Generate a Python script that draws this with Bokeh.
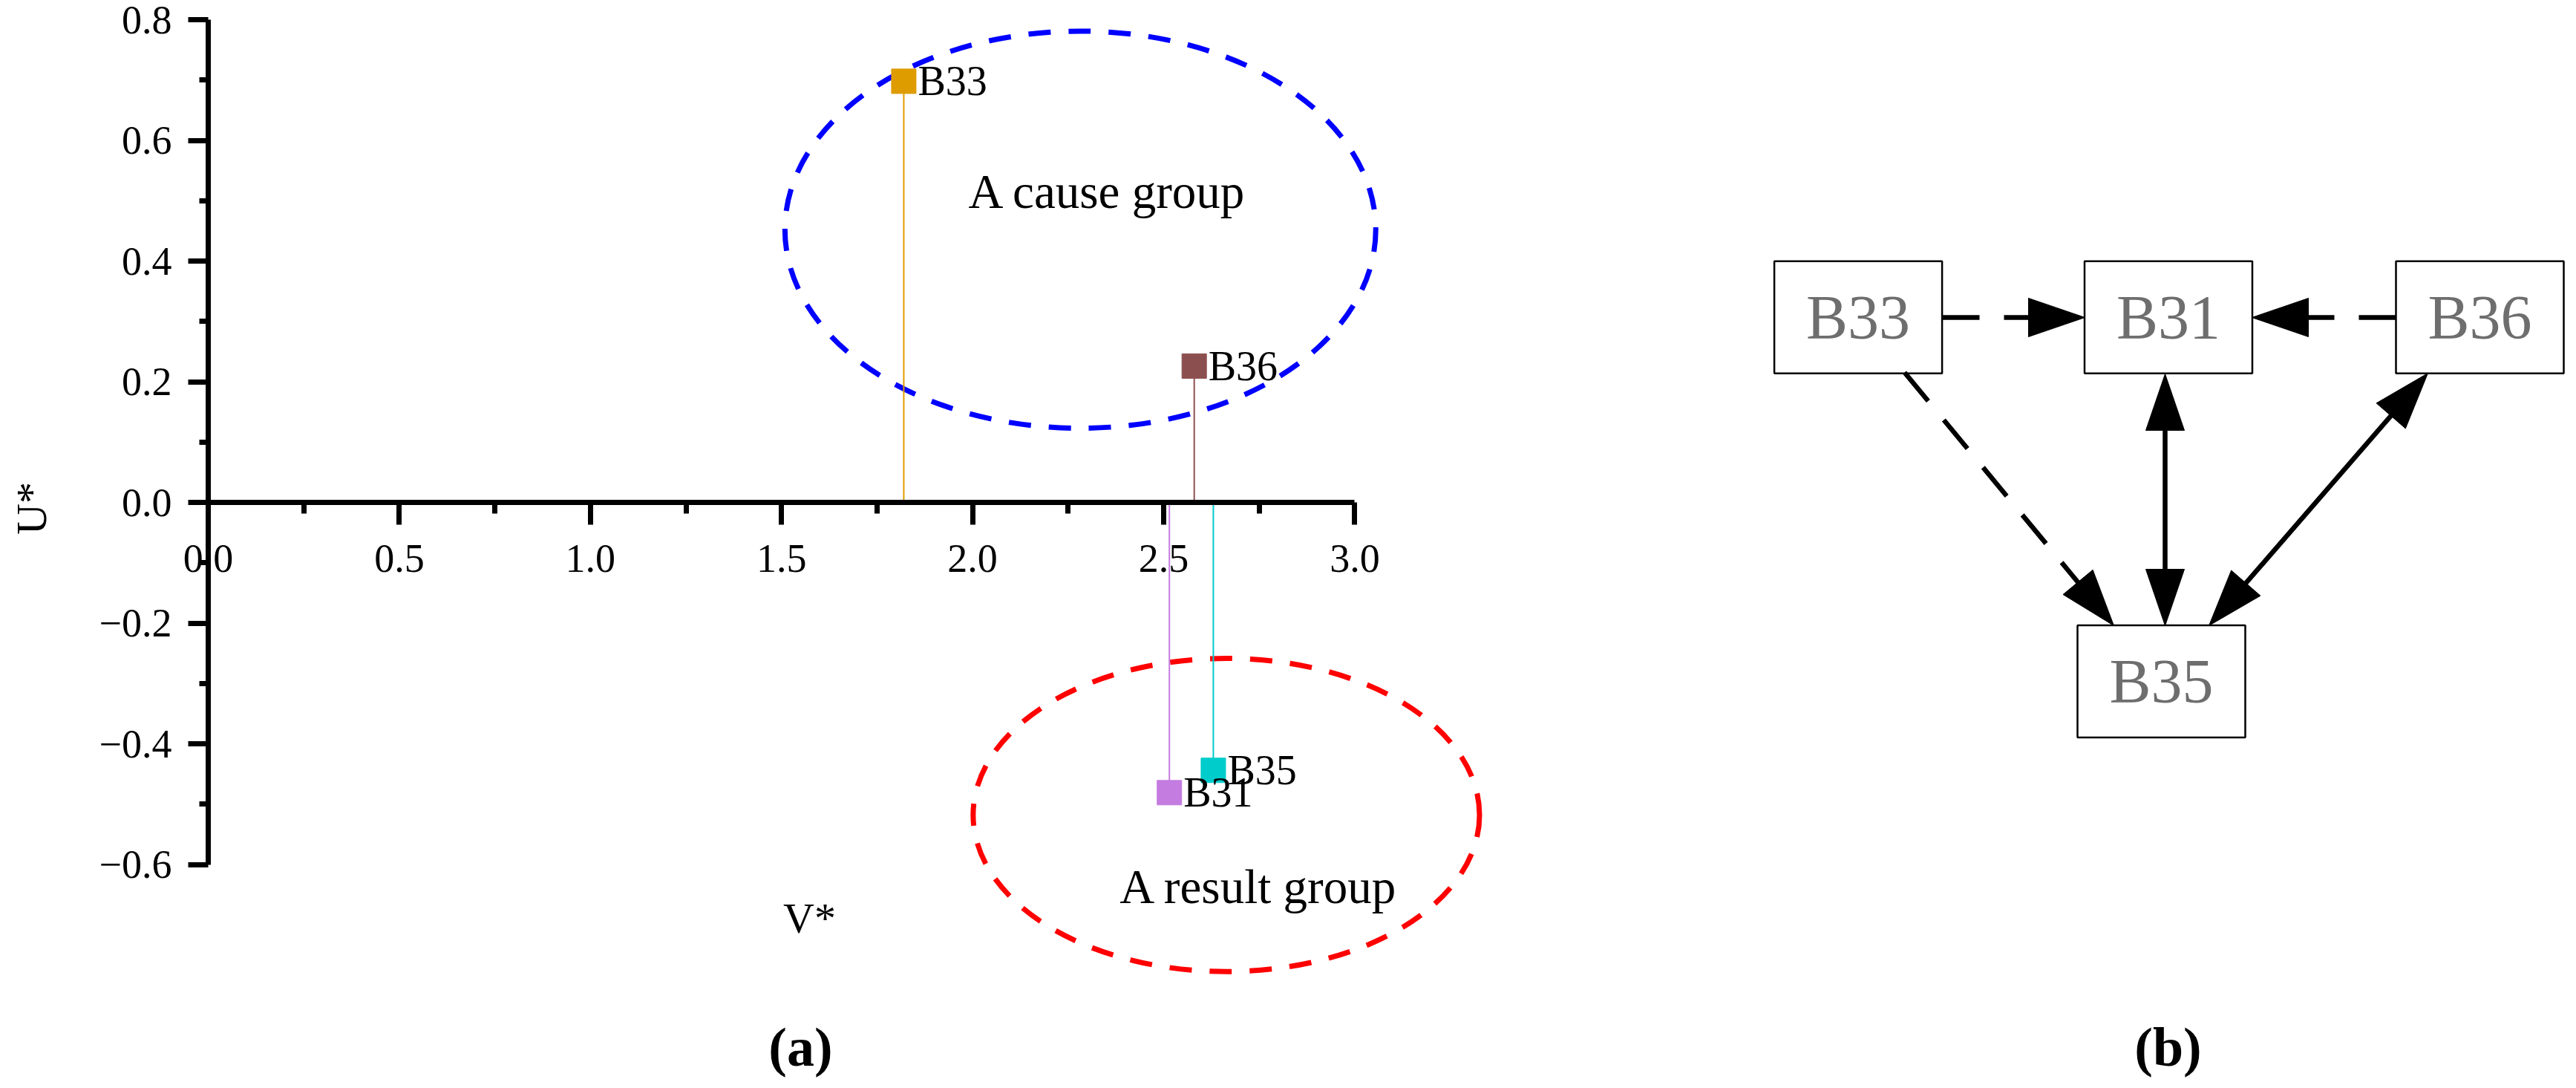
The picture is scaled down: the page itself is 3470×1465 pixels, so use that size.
import math
from bokeh.plotting import figure
from bokeh.models import Range1d, LinearAxis, FixedTicker, ColumnDataSource
from bokeh.layouts import row
from bokeh.embed import file_html
from bokeh.resources import INLINE
from bokeh.core.properties import value

# ---------------- data: panel (a) ----------------
factors = ["B33", "B36", "B35", "B31"]
v_star = [1.82, 2.58, 2.63, 2.515]
u_star = [0.698, 0.226, -0.444, -0.481]
colors = ["#DE9C00", "#8C4F4F", "#00CCCC", "#C47CE0"]

x_ticks = [0.0, 0.5, 1.0, 1.5, 2.0, 2.5, 3.0]
x_tick_labels = ["0.0", "0.5", "1.0", "1.5", "2.0", "2.5", "3.0"]
x_minor = [0.25, 0.75, 1.25, 1.75, 2.25, 2.75]
y_ticks = [-0.6, -0.4, -0.2, 0.0, 0.2, 0.4, 0.6, 0.8]
y_tick_labels = ["\u22120.6", "\u22120.4", "\u22120.2", "0.0", "0.2", "0.4", "0.6", "0.8"]
y_minor = [-0.5, -0.3, -0.1, 0.1, 0.3, 0.5, 0.7]

group_names = ["A cause group", "A result group"]

# ---------------- data: panel (b) ----------------
nodes = ["B33", "B31", "B36", "B35"]
# (source, target, style); "dashed" = one-way dashed, "both" = two-way solid
edges = [("B33", "B31", "dashed"), ("B36", "B31", "dashed"), ("B33", "B35", "dashed"),
         ("B31", "B35", "both"), ("B36", "B35", "both")]

# ---------------- layout (screen pixels) ----------------
OFF = 0          # page origin of the figures
H = 1462
WA = 2310
WB = 1156
FONT = "Liberation Serif"

X0_PX, X_SCALE = 280.0, 514.8
Y0_PX, Y_SCALE = 676.0, 812.5

def vx(px):
    return (px - X0_PX) / X_SCALE

def uy(py):
    return (Y0_PX - py) / Y_SCALE

pa = figure(width=WA, height=H, output_backend="svg", toolbar_location=None,
            x_range=Range1d(vx(OFF), vx(OFF + WA)), y_range=Range1d(uy(OFF + H), uy(OFF)),
            x_axis_type=None, y_axis_type=None, min_border=0)
pa.outline_line_color = None
pa.background_fill_color = "white"
pa.border_fill_color = "white"

common = dict(axis_line_width=7, major_tick_line_width=7, minor_tick_line_width=7,
              major_tick_in=0, minor_tick_in=0, axis_line_cap="butt",
              major_label_text_font=FONT, major_label_text_font_size="54px",
              major_label_text_color="black")
xaxis = LinearAxis(fixed_location=0, bounds=(0, 3),
                   ticker=FixedTicker(ticks=x_ticks, minor_ticks=x_minor),
                   major_tick_out=30, minor_tick_out=15, major_label_standoff=27,
                   major_label_overrides=dict(zip(x_ticks, x_tick_labels)), **common)
yaxis = LinearAxis(fixed_location=0, bounds=(-0.6, 0.8),
                   ticker=FixedTicker(ticks=y_ticks, minor_ticks=y_minor),
                   major_tick_out=27, minor_tick_out=12, major_label_standoff=22,
                   major_label_overrides=dict(zip(y_ticks, y_tick_labels)), **common)
pa.add_layout(xaxis, "below")
pa.add_layout(yaxis, "left")

# group ellipses
pa.ellipse(x=[2.282], y=[0.452], width=[1.546], height=[0.658], fill_color=None,
           line_color="#0000FF", line_width=7, line_dash="30 24")
pa.ellipse(x=[2.664], y=[-0.518], width=[1.325], height=[0.519], fill_color=None,
           line_color="#FF0000", line_width=7, line_dash="30 24")

src = ColumnDataSource(dict(f=factors, v=v_star, u=u_star, c=colors, z=[0] * len(factors)))
pa.segment(x0="v", y0="z", x1="v", y1="u", line_color="c", line_width=2, source=src)
pa.scatter(x="v", y="u", marker="square", size=33, fill_color="c", line_color="c", source=src)
pa.text(x="v", y="u", text="f", x_offset=19, text_align="left", text_baseline="middle",
        text_font=value(FONT), text_font_size="56px", text_color="black", source=src)

pa.text(x=[vx(1491.7), vx(1695.5)], y=[uy(257), uy(1193)], text=group_names,
        text_align="center", text_baseline="middle", text_font=value(FONT),
        text_font_size="65px", text_color="black")
pa.text(x=[vx(1090)], y=[uy(1236)], text=["V*"], text_align="center",
        text_baseline="middle", text_font=value(FONT), text_font_size="58px", text_color="black")
pa.text(x=[vx(41.7)], y=[uy(684)], text=["U*"], angle=math.pi / 2, text_align="center",
        text_baseline="middle", text_font=value(FONT), text_font_size="58px", text_color="black")
pa.text(x=[vx(1078)], y=[uy(1409)], text=["(a)"], text_align="center", text_baseline="middle",
        text_font=value(FONT), text_font_size="74px", text_font_style="bold", text_color="black")

# ---------------- panel (b) ----------------
XB0 = OFF + WA
pb = figure(width=WB, height=H, output_backend="svg", toolbar_location=None,
            x_range=Range1d(XB0, XB0 + WB), y_range=Range1d(OFF + H, OFF),
            x_axis_type=None, y_axis_type=None, min_border=0)
pb.outline_line_color = None
pb.background_fill_color = "white"
pb.border_fill_color = "white"

node_pos = {"B33": (2502.6, 426.8), "B31": (2920.5, 426.8), "B36": (3340.0, 426.8), "B35": (2911.0, 917.0)}
BOX_W, BOX_H = 226, 151
edge_ends = {
    ("B33", "B31"): ((2616, 427), (2808, 427)),
    ("B36", "B31"): ((3227, 427), (3033, 427)),
    ("B33", "B35"): ((2565, 501), (2847, 842)),
    ("B31", "B35"): ((2916, 503), (2916, 842)),
    ("B36", "B35"): ((3270, 502), (2975, 842)),
}
HEAD_L, HEAD_W = 76, 52

pb.rect(x=[node_pos[n][0] for n in nodes], y=[node_pos[n][1] for n in nodes],
        width=BOX_W, height=BOX_H, fill_color="white", line_color="black", line_width=2.5)
pb.text(x=[node_pos[n][0] for n in nodes], y=[node_pos[n][1] for n in nodes], text=nodes,
        text_align="center", text_baseline="middle", text_font=value(FONT),
        text_font_size="84px", text_color="#6E6E6E")

def head(tip, ux_, uy_):
    bx, by = tip[0] - HEAD_L * ux_, tip[1] - HEAD_L * uy_
    px, py = -uy_, ux_
    return ([tip[0], bx + HEAD_W / 2 * px, bx - HEAD_W / 2 * px],
            [tip[1], by + HEAD_W / 2 * py, by - HEAD_W / 2 * py])

hx, hy = [], []
for s, t, style in edges:
    (x0, y0), (x1, y1) = edge_ends[(s, t)]
    d = math.hypot(x1 - x0, y1 - y0)
    ux_, uy_ = (x1 - x0) / d, (y1 - y0) / d
    ex, ey = x1 - (HEAD_L - 4) * ux_, y1 - (HEAD_L - 4) * uy_
    sx, sy = x0, y0
    a, b = head((x1, y1), ux_, uy_)
    hx.append(a); hy.append(b)
    if style == "both":
        sx, sy = x0 + (HEAD_L - 4) * ux_, y0 + (HEAD_L - 4) * uy_
        a, b = head((x0, y0), -ux_, -uy_)
        hx.append(a); hy.append(b)
    pb.segment(x0=[sx], y0=[sy], x1=[ex], y1=[ey], line_color="black", line_width=6.5,
               line_dash="50 33" if style == "dashed" else "solid")
pb.patches(xs=hx, ys=hy, fill_color="black", line_color="black", line_width=1)

pb.text(x=[2920], y=[1409], text=["(b)"], text_align="center", text_baseline="middle",
        text_font=value(FONT), text_font_size="74px", text_font_style="bold", text_color="black")

layout = row(pa, pb)
open("out.html", "w").write(file_html(layout, INLINE))
